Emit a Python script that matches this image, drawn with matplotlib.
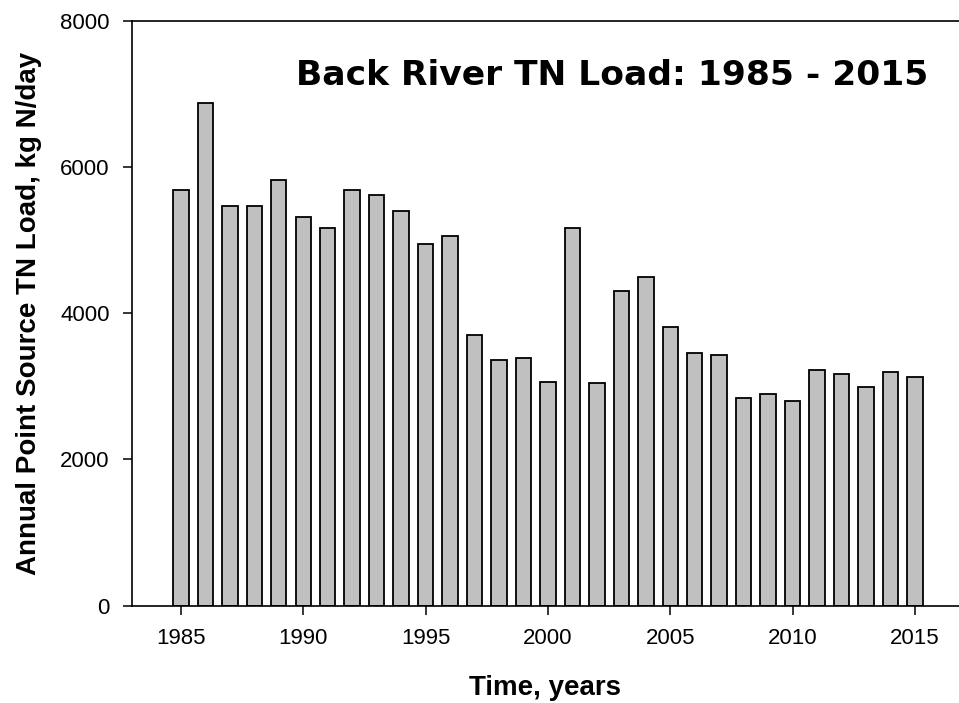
import matplotlib
matplotlib.use("Agg")
import matplotlib.pyplot as plt

# Back River annual point source TN load
years = list(range(1985, 2016))
tn_load = [5690, 6880, 5470, 5470, 5820, 5310, 5170, 5680, 5620, 5400,
           4950, 5050, 3700, 3360, 3390, 3060, 5170, 3050, 4300, 4500,
           3810, 3460, 3430, 2840, 2890, 2800, 3220, 3170, 2990, 3200,
           3130]
xticks = [1985, 1990, 1995, 2000, 2005, 2010, 2015]
yticks = [0, 2000, 4000, 6000, 8000]

plt.rcParams['font.family'] = ['Liberation Sans', 'DejaVu Sans']

fig = plt.figure(figsize=(9.59, 7.03), dpi=100)
ax = fig.add_axes([0.1376, 0.1384, 0.8624, 0.8322])

ax.bar(years, tn_load, width=0.63, color='#c0c0c0', edgecolor='black', linewidth=1.3)

ax.set_xlim(1983, 2016.8)
ax.set_ylim(0, 8000)
ax.set_xticks(xticks)
ax.set_yticks(yticks)
ax.tick_params(direction='out', length=6.5, width=1.1, labelsize=16, pad=9.5)
for s in ['left', 'bottom', 'top']:
    ax.spines[s].set_linewidth(1.2)
ax.spines['right'].set_visible(False)

ax.set_xlabel('Time, years', fontsize=20, fontweight='bold', labelpad=19)
ax.set_ylabel('Annual Point Source TN Load, kg N/day', fontsize=20, fontweight='bold', labelpad=13)

ax.text(0.963, 0.935, 'Back River TN Load: 1985 - 2015', transform=ax.transAxes,
        ha='right', va='top', fontsize=24.8, fontweight='bold', family='DejaVu Sans')

fig.savefig('out.png', dpi=100)
